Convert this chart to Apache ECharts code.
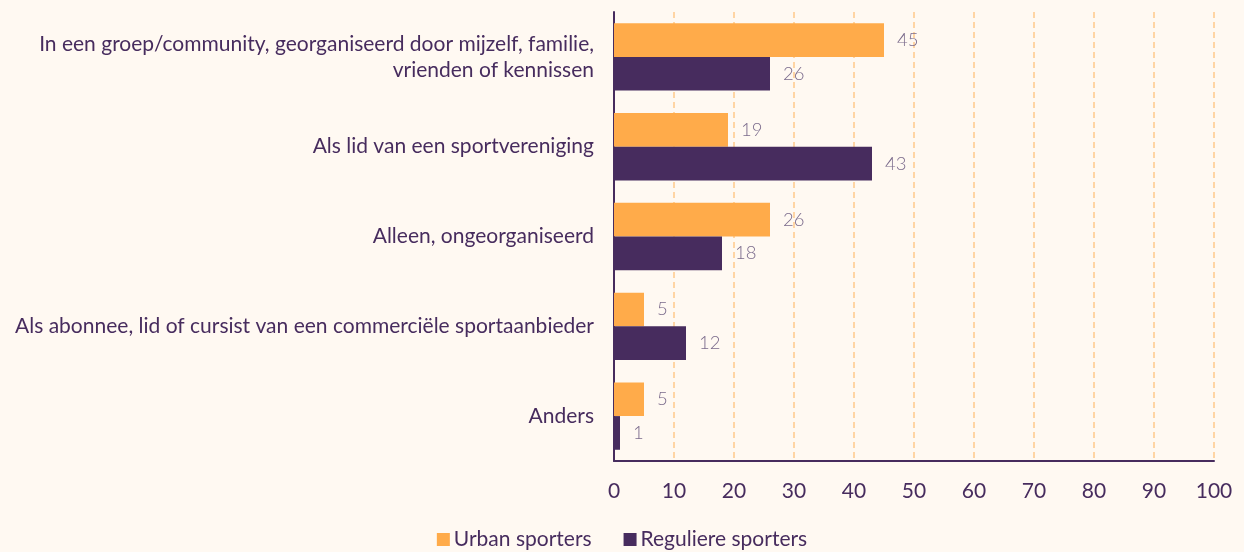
<!DOCTYPE html>
<html>
<head>
<meta charset="utf-8">
<script src="https://cdn.jsdelivr.net/npm/echarts@6/dist/echarts.min.js"></script>
<style>
  html, body { margin: 0; padding: 0; background: #fff9f2; }
  #chart { width: 1244px; height: 552px; }
</style>
</head>
<body>
<div id="chart"></div>
<script>
// categorieën en waarden (in %)
const categories = [
  'In een groep/community, georganiseerd door mijzelf, familie,\nvrienden of kennissen',
  'Als lid van een sportvereniging',
  'Alleen, ongeorganiseerd',
  'Als abonnee, lid of cursist van een commerciële sportaanbieder',
  'Anders'
];
const urban = [45, 19, 26, 5, 5];
const regulier = [26, 43, 18, 12, 1];
const seriesNames = ['Urban sporters', 'Reguliere sporters'];

const chart = echarts.init(document.getElementById('chart'));
const labelStyle = {
  show: true,
  position: 'right',
  distance: 13,
  color: '#7b6b8c',
  fontFamily: 'Lato',
  fontWeight: 300,
  fontSize: 18.5
};
chart.setOption({
  backgroundColor: '#fff9f2',
  textStyle: { fontFamily: 'Lato' },
  legend: {
    top: 524,
    left: 'center',
    itemWidth: 13,
    itemHeight: 13,
    itemGap: 32,
    icon: 'rect',
    textStyle: { color: '#472c5e', fontSize: 21, fontFamily: 'Lato', padding: [0, 0, 0, -1] },
    data: seriesNames
  },
  grid: { left: 614, right: 30, top: 12, bottom: 91, containLabel: false },
  xAxis: {
    type: 'value',
    min: 0,
    max: 100,
    interval: 10,
    axisLine: { show: true, lineStyle: { color: '#472c5e', width: 2 } },
    axisTick: { show: false },
    axisLabel: { color: '#472c5e', fontSize: 21, margin: 20 },
    splitLine: { lineStyle: { color: '#ffc98a', type: [6, 4], width: 1.5 } }
  },
  yAxis: {
    type: 'category',
    inverse: true,
    data: categories,
    axisLine: { show: true, lineStyle: { color: '#472c5e', width: 2 } },
    axisTick: { show: false },
    axisLabel: { color: '#472c5e', fontSize: 21, margin: 20, lineHeight: 26, align: 'right' }
  },
  series: [
    {
      name: seriesNames[0],
      type: 'bar',
      data: urban,
      barGap: '0%',
      barCategoryGap: '25%',
      itemStyle: { color: '#ffab4a' },
      label: labelStyle
    },
    {
      name: seriesNames[1],
      type: 'bar',
      data: regulier,
      barGap: '0%',
      barCategoryGap: '25%',
      itemStyle: { color: '#472c5e' },
      label: labelStyle
    }
  ]
});
</script>
</body>
</html>
